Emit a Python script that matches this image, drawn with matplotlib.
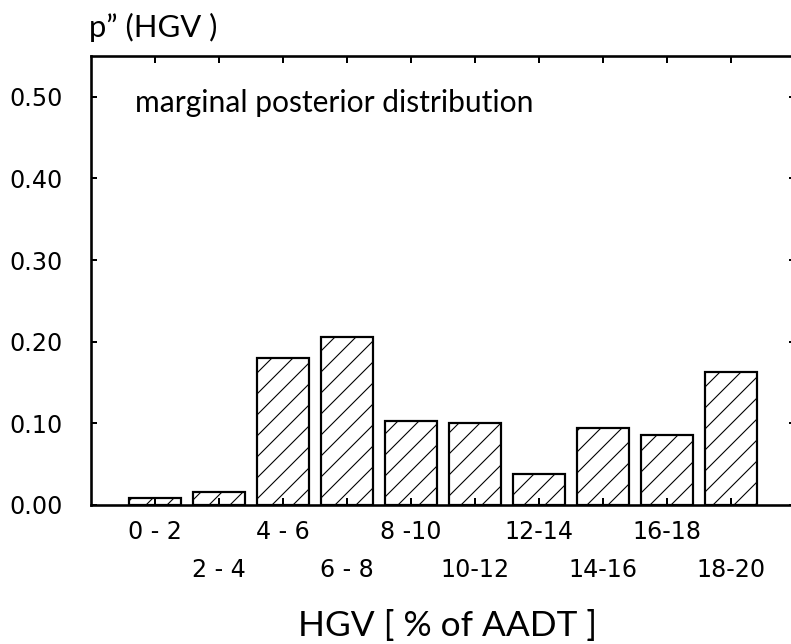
import matplotlib
matplotlib.use("Agg")

import matplotlib.pyplot as plt
from matplotlib import font_manager as fm

# HGV share classes and the marginal posterior probability of each
classes = ["0 - 2", "2 - 4", "4 - 6", "6 - 8", "8 -10",
           "10-12", "12-14", "14-16", "16-18", "18-20"]
prob = [0.009, 0.016, 0.180, 0.206, 0.103, 0.101, 0.038, 0.094, 0.086, 0.163]
y_ticks = [0.0, 0.1, 0.2, 0.3, 0.4, 0.5]
y_ticklabels = ["0.00", "0.10", "0.20", "0.30", "0.40", "0.50"]

note_text = "marginal posterior distribution"
x_title = "HGV [ % of AADT ]"
y_title = "p\u201d (HGV )"

# dpi picked so the '//' hatch spacing (~10 px) matches the scan
DPI = 126
W, H = 791, 644


def pt(px):
    # pixels -> points at the output dpi
    return px * 72.0 / DPI


def font_path(**kw):
    try:
        return fm.findfont(fm.FontProperties(**kw), fallback_to_default=False)
    except ValueError:
        return None


# tick font: Verdana-like
tick_prop = fm.FontProperties(family="DejaVu Sans", size=pt(23.8))

# label font: narrow humanist-ish
label_family = "Liberation Sans Narrow" if font_path(family="Liberation Sans Narrow") else "Lato"

plt.rcParams["hatch.linewidth"] = pt(1.1)

fig = plt.figure(figsize=(W / DPI, H / DPI), dpi=DPI)
# axes box in pixels: left 91, right 795 (just past the edge), top 56, bottom 505
ax = fig.add_axes([91 / W, 1 - 505 / H, 704 / W, 449 / H])

pos = list(range(1, len(classes) + 1))
ax.bar(pos, prob, width=0.81, color="white", edgecolor="black",
       hatch="//", linewidth=pt(2.2))

ax.set_xlim(0, len(classes) + 1)
ax.set_ylim(0, 0.55)

# two rows of class labels: odd classes on top row, even ones below
ax.set_xticks(pos[0::2])
ax.set_xticklabels(classes[0::2])
ax.set_xticks(pos[1::2], minor=True)
ax.set_xticklabels(classes[1::2], minor=True)
ax.tick_params(axis="x", which="both", direction="in", length=pt(7),
               width=pt(2), top=True)
ax.tick_params(axis="x", which="major", pad=pt(15))
ax.tick_params(axis="x", which="minor", pad=pt(53))

ax.set_yticks(y_ticks)
ax.set_yticklabels(y_ticklabels)
ax.tick_params(axis="y", direction="in", length=pt(6), width=pt(2),
               right=True, pad=pt(28))

for lab in ax.get_xticklabels() + ax.get_xticklabels(minor=True) + ax.get_yticklabels():
    lab.set_fontproperties(tick_prop)

for s in ax.spines.values():
    s.set_linewidth(pt(2.6))

note = fig.text(135 / W, 1 - 112 / H, note_text, ha="left", va="baseline",
                family=label_family, fontsize=18)
xt = fig.text(448 / W, 1 - 636 / H, x_title, ha="center", va="baseline",
              family=label_family, fontsize=20)
yt = fig.text(89 / W, 1 - 37 / H, y_title, ha="left", va="baseline",
              family=label_family, fontsize=15)

# scale the label fonts so their widths match the original
renderer = fig.canvas.get_renderer()
for t, target in [(note, 398), (xt, 300), (yt, 128)]:
    w = t.get_window_extent(renderer=renderer).width
    t.set_fontsize(t.get_fontsize() * target / w)

fig.savefig("out.png", dpi=DPI)
